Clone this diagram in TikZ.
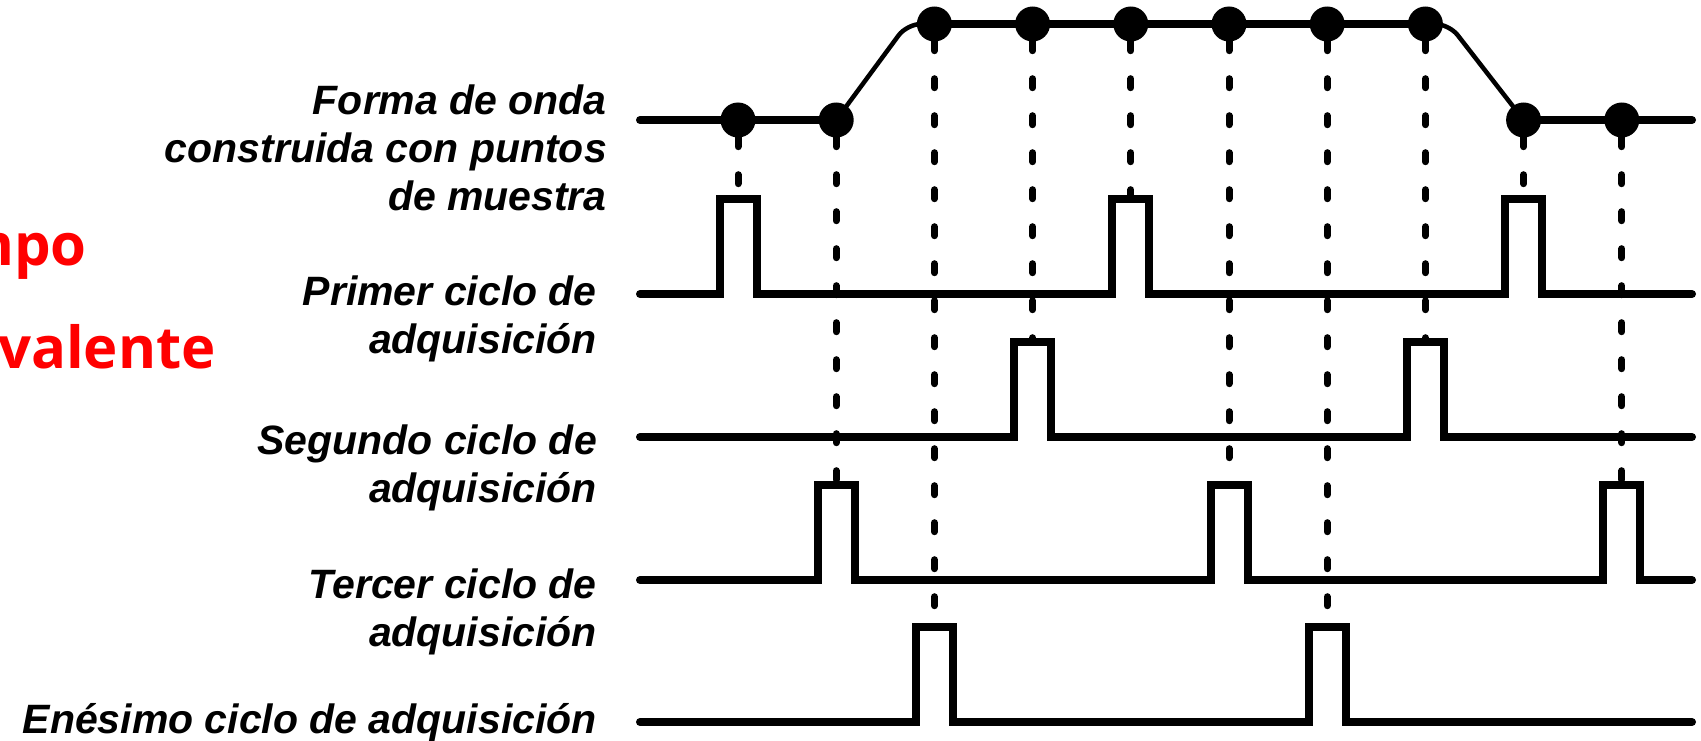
\documentclass[tikz,border=0pt]{standalone}
\usepackage{fontspec}
\setmainfont{Liberation Sans}
\newfontfamily\titlefont{Open Sans}
\usepackage{xcolor}
\usetikzlibrary{calc}

\tikzset{
    wave/.style={line width=8pt, line cap=round},
    ramp/.style={line width=4.5pt, rounded corners=14pt},
    probe/.style={line width=7pt, line cap=round, dash pattern=on 9pt off 28pt},
    sample/.style={circle, fill=black, inner sep=0pt, minimum size=35pt},
    lbl/.style={font=\fontsize{41}{48}\selectfont\bfseries\itshape, align=right, anchor=east, inner sep=0pt},
    title/.style={font=\titlefont\fontsize{58}{60}\selectfont\bfseries, text=red, anchor=east, inner sep=0pt}
}

\begin{document}
\begin{tikzpicture}[x=1pt, y=-1pt]
    \useasboundingbox (0,0) rectangle (1701,741);

    \node[title] (tiempo) at (87,250) {Tiempo};
    \node[title] (equiv) at (216,353) {equivalente};

    \node[lbl] (forma) at (607,148) {Forma de onda\\construida con puntos\\de muestra};
    \node[lbl] (primer) at (597,319) {Primer ciclo de\\adquisición};
    \node[lbl] (segundo) at (597,468) {Segundo ciclo de\\adquisición};
    \node[lbl] (tercer) at (597,612) {Tercer ciclo de\\adquisición};
    \node[lbl] (enesimo) at (597,723) {Enésimo ciclo de adquisición};

    \foreach \k/\y in {0/120,1/120,2/24,3/24,4/24,5/24,6/24,7/24,8/120,9/120}
        \coordinate (s\k) at ({738+98.2*\k},\y);

    \draw[wave] (640,120) -- (s1);
    \draw[ramp] (s1) -- (907,24) -- (s2);
    \draw[wave] (s2) -- (s7);
    \draw[ramp] (s7) -- (1449,24) -- (s8);
    \draw[wave] (s8) -- (1692,120);

    \foreach \yb/\ks in {294/{0,4,8}, 437/{3,7}, 580/{1,5,9}, 722/{2,6}}
        \draw[wave] (640,\yb) \foreach \k in \ks {
            -- ({738+98.2*\k-18.5},\yb) -- ++(0,-95) -- ++(18.5,0) coordinate (t\k)
            -- ++(18.5,0) -- ++(0,95)} -- (1692,\yb);

    \foreach \k in {0,...,9} {
        \node[sample] (d\k) at (s\k) {};
        \draw[probe] (d\k.south) -- (t\k);
    }
\end{tikzpicture}
\end{document}
